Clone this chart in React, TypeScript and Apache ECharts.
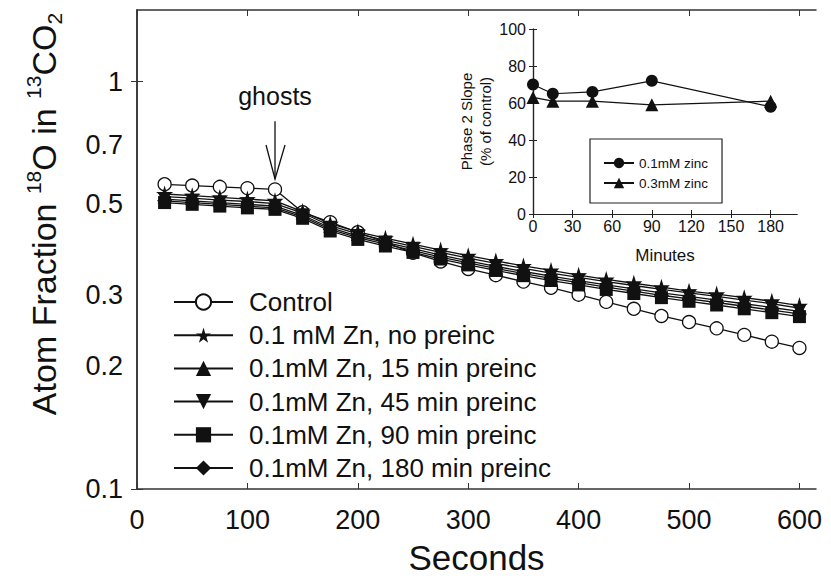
import React, { useEffect, useRef } from "react";
import * as echarts from "echarts";

const FONT = "Liberation Sans, Arial, Helvetica, sans-serif";

// ---- main chart data ----
const seconds = [25, 50, 75, 100, 125, 150, 175, 200, 225, 250, 275, 300, 325, 350, 375, 400, 425, 450, 475, 500, 525, 550, 575, 600];
const control = [0.560, 0.556, 0.552, 0.548, 0.544, 0.478, 0.452, 0.427, 0.403, 0.380, 0.362, 0.347, 0.335, 0.323, 0.312, 0.300, 0.288, 0.277, 0.266, 0.257, 0.248, 0.239, 0.230, 0.222];
const znNoPreinc = [0.530, 0.525, 0.520, 0.515, 0.510, 0.480, 0.448, 0.428, 0.413, 0.399, 0.386, 0.374, 0.363, 0.353, 0.344, 0.335, 0.327, 0.320, 0.313, 0.306, 0.301, 0.295, 0.289, 0.282];
const zn15 = [0.522, 0.518, 0.512, 0.508, 0.502, 0.476, 0.443, 0.423, 0.408, 0.394, 0.381, 0.369, 0.358, 0.348, 0.339, 0.331, 0.323, 0.316, 0.309, 0.303, 0.297, 0.291, 0.285, 0.278];
const zn45 = [0.515, 0.510, 0.505, 0.500, 0.495, 0.470, 0.438, 0.418, 0.403, 0.389, 0.375, 0.363, 0.352, 0.342, 0.333, 0.325, 0.317, 0.310, 0.303, 0.297, 0.291, 0.285, 0.279, 0.273];
const zn90 = [0.505, 0.500, 0.495, 0.490, 0.486, 0.462, 0.430, 0.410, 0.395, 0.381, 0.367, 0.355, 0.344, 0.334, 0.325, 0.317, 0.309, 0.302, 0.295, 0.289, 0.283, 0.277, 0.271, 0.265];
const zn180 = [0.510, 0.505, 0.500, 0.495, 0.490, 0.466, 0.434, 0.414, 0.399, 0.385, 0.371, 0.359, 0.348, 0.338, 0.329, 0.321, 0.313, 0.306, 0.299, 0.293, 0.287, 0.281, 0.275, 0.269];
const seriesNames = [
  "Control",
  "0.1 mM Zn, no preinc",
  "0.1mM Zn, 15 min preinc",
  "0.1mM Zn, 45 min preinc",
  "0.1mM Zn, 90 min preinc",
  "0.1mM Zn, 180 min preinc",
];
const xTickValues = [0, 100, 200, 300, 400, 500, 600];
const yTickValues = [0.1, 0.2, 0.3, 0.5, 0.7, 1];
const yTickMarks = [0.1, 1];

// ---- inset data ----
const insetMinutes = [0, 15, 45, 90, 180];
const inset01mM = [70, 65, 66, 72, 58];
const inset03mM = [63, 61, 61, 59, 61];
const insetNames = ["0.1mM zinc", "0.3mM zinc"];
const insetXTicks = [0, 30, 60, 90, 120, 150, 180];

// annotation anchor (data coords)
const ghostSecond = 125;

const STAR = "path://M50,0 L61,35 L98,35 L68,57 L79,91 L50,70 L21,91 L32,57 L2,35 L39,35 Z";
const TRI_DOWN = "path://M0,0 L20,0 L10,18 Z";

export default function App() {
  const ref = useRef<HTMLDivElement>(null);

  useEffect(() => {
    if (!ref.current) return;
    const chart = echarts.init(ref.current, undefined, { renderer: "svg" });
    const ink = "#111";
    const frame = "#333";

    const pairs = (vals: number[]) => seconds.map((s, i) => [s, vals[i]]);
    const mainLine = (name: string, vals: number[], symbol: string, size: number, fill: string) => ({
      name,
      type: "line",
      xAxisIndex: 0,
      yAxisIndex: 0,
      data: pairs(vals),
      symbol,
      symbolSize: size,
      showSymbol: true,
      lineStyle: { color: ink, width: 1.3 },
      itemStyle: { color: fill, borderColor: ink, borderWidth: fill === "#fff" ? 1.3 : 0 },
      emphasis: { disabled: true },
      z: 3,
    });

    const fmt = (v: number) => String(Number(Number(v).toPrecision(3)));

    const option: any = {
      animation: false,
      backgroundColor: "#fff",
      textStyle: { fontFamily: FONT },
      grid: [
        { left: 137, top: 10, width: 679, height: 479, outerBoundsMode: "none" },
        { left: 533, top: 29, width: 264, height: 185, outerBoundsMode: "none" },
      ],
      xAxis: [
        {
          type: "value", gridIndex: 0, position: "bottom", min: 0, max: 615,
          axisLine: { show: true, lineStyle: { color: frame, width: 1.5 } },
          axisTick: { show: true, inside: true, length: 6, customValues: xTickValues, lineStyle: { color: frame } },
          axisLabel: { fontSize: 27, color: ink, margin: 17, fontFamily: FONT, customValues: xTickValues },
          splitLine: { show: false },
          name: "Seconds", nameLocation: "middle", nameGap: 51,
          nameTextStyle: { fontSize: 35, color: ink, fontFamily: FONT },
        },
        {
          type: "value", gridIndex: 0, position: "top", min: 0, max: 615,
          axisLine: { show: true, lineStyle: { color: frame, width: 1.5 } },
          axisTick: { show: true, inside: true, length: 6, customValues: xTickValues, lineStyle: { color: frame } },
          axisLabel: { show: false },
          splitLine: { show: false },
        },
        {
          type: "value", gridIndex: 1, position: "bottom", min: 0, max: 200,
          axisLine: { show: true, lineStyle: { color: "#222", width: 1.2 } },
          axisTick: { show: true, inside: true, length: 4, customValues: insetXTicks, lineStyle: { color: "#222" } },
          axisLabel: { fontSize: 16, color: ink, margin: 4, fontFamily: FONT, customValues: insetXTicks },
          splitLine: { show: false },
          name: "Minutes", nameLocation: "middle", nameGap: 33,
          nameTextStyle: { fontSize: 17, color: ink, fontFamily: FONT },
        },
        {
          type: "value", gridIndex: 1, position: "top", min: 0, max: 200,
          axisLine: { show: true, lineStyle: { color: "#222", width: 1.2 } },
          axisTick: { show: true, inside: true, length: 4, customValues: insetXTicks, lineStyle: { color: "#222" } },
          axisLabel: { show: false },
          splitLine: { show: false },
        },
      ],
      yAxis: [
        {
          type: "log", gridIndex: 0, position: "left", min: 0.1, max: 1.5, logBase: 10,
          axisLine: { show: true, lineStyle: { color: frame, width: 1.5 } },
          axisTick: { show: true, inside: true, length: 6, customValues: yTickMarks, lineStyle: { color: frame } },
          axisLabel: { fontSize: 27, color: ink, margin: 14, fontFamily: FONT, customValues: yTickValues, formatter: fmt },
          splitLine: { show: false },
          minorTick: { show: false },
        },
        {
          type: "log", gridIndex: 0, position: "right", min: 0.1, max: 1.5, logBase: 10,
          axisLine: { show: true, lineStyle: { color: frame, width: 1.5 } },
          axisTick: { show: true, inside: true, length: 6, customValues: yTickMarks, lineStyle: { color: frame } },
          axisLabel: { show: false },
          splitLine: { show: false },
        },
        {
          type: "value", gridIndex: 1, position: "left", min: 0, max: 100, interval: 20,
          axisLine: { show: true, lineStyle: { color: "#222", width: 1.2 } },
          axisTick: { show: true, inside: true, length: 4, lineStyle: { color: "#222" } },
          axisLabel: { fontSize: 16, color: ink, margin: 7, fontFamily: FONT },
          splitLine: { show: false },
          name: "Phase 2 Slope\n(% of control)", nameLocation: "middle", nameGap: 33,
          nameTextStyle: { fontSize: 15, color: ink, fontFamily: FONT, lineHeight: 19 },
        },
        {
          type: "value", gridIndex: 1, position: "right", min: 0, max: 100, interval: 20,
          axisLine: { show: true, lineStyle: { color: "#222", width: 1.2 } },
          axisTick: { show: true, inside: true, length: 4, lineStyle: { color: "#222" } },
          axisLabel: { show: false },
          splitLine: { show: false },
        },
      ],
      legend: [
        {
          data: seriesNames,
          orient: "vertical",
          left: 173,
          top: 289,
          padding: 0,
          itemWidth: 59,
          itemHeight: 19,
          itemGap: 7.2,
          selectedMode: false,
          textStyle: { fontSize: 26, color: ink, fontFamily: FONT, padding: [0, 0, 0, 11] },
        },
        {
          data: insetNames,
          orient: "vertical",
          left: 590,
          top: 139,
          padding: [17, 14, 13, 13],
          borderColor: "#222",
          borderWidth: 1.2,
          itemWidth: 30,
          itemHeight: 13,
          itemGap: 6,
          selectedMode: false,
          textStyle: { fontSize: 13.5, color: ink, fontFamily: FONT },
        },
      ],
      series: [
        mainLine(seriesNames[0], control, "circle", 13, "#fff"),
        mainLine(seriesNames[1], znNoPreinc, STAR, 17, ink),
        mainLine(seriesNames[2], zn15, "triangle", 14, ink),
        mainLine(seriesNames[3], zn45, TRI_DOWN, 14, ink),
        mainLine(seriesNames[4], zn90, "rect", 13, ink),
        mainLine(seriesNames[5], zn180, "diamond", 15, ink),
        {
          name: insetNames[0], type: "line", xAxisIndex: 2, yAxisIndex: 2,
          data: insetMinutes.map((m, i) => [m, inset01mM[i]]),
          symbol: "circle", symbolSize: 12,
          lineStyle: { color: ink, width: 1.2 }, itemStyle: { color: ink },
          emphasis: { disabled: true },
        },
        {
          name: insetNames[1], type: "line", xAxisIndex: 2, yAxisIndex: 2,
          data: insetMinutes.map((m, i) => [m, inset03mM[i]]),
          symbol: "triangle", symbolSize: 13,
          lineStyle: { color: ink, width: 1.2 }, itemStyle: { color: ink },
          emphasis: { disabled: true },
        },
      ],
    };

    chart.setOption(option);

    // annotation and axis title positioned through the chart's own scales
    const tip = chart.convertToPixel({ xAxisIndex: 0, yAxisIndex: 0 }, [ghostSecond, 0.577]) as number[];
    const top = chart.convertToPixel({ xAxisIndex: 0, yAxisIndex: 0 }, [ghostSecond, 0.8]) as number[];
    const lbl = chart.convertToPixel({ xAxisIndex: 0, yAxisIndex: 0 }, [ghostSecond, 0.92]) as number[];

    chart.setOption({
      graphic: [
        {
          type: "text", x: lbl[0], y: lbl[1],
          style: { text: "ghosts", fontSize: 25, fontFamily: FONT, fill: ink, align: "center", verticalAlign: "middle" },
        },
        {
          type: "line",
          shape: { x1: top[0], y1: top[1], x2: tip[0], y2: tip[1] },
          style: { stroke: ink, lineWidth: 1.3 },
        },
        {
          type: "polyline",
          shape: { points: [[tip[0] - 9, tip[1] - 34], [tip[0], tip[1]], [tip[0] + 10, tip[1] - 34]] },
          style: { stroke: ink, lineWidth: 1.3, fill: "none" },
        },
        {
          type: "text", x: 44, y: 214, rotation: Math.PI / 2,
          style: {
            text: "{m|Atom Fraction }{s|18}{m|O in }{s|13}{m|CO}{b|2}",
            align: "center",
            verticalAlign: "middle",
            rich: {
              m: { fontSize: 34, fontFamily: FONT, fill: ink, lineHeight: 42, verticalAlign: "middle" },
              s: { fontSize: 21, fontFamily: FONT, fill: ink, lineHeight: 42, verticalAlign: "top" },
              b: { fontSize: 21, fontFamily: FONT, fill: ink, lineHeight: 42, verticalAlign: "bottom" },
            },
          },
        },
      ],
    });

    return () => chart.dispose();
  }, []);

  return <div ref={ref} style={{ position: "fixed", left: 0, top: 0, width: 831, height: 585 }} />;
}
